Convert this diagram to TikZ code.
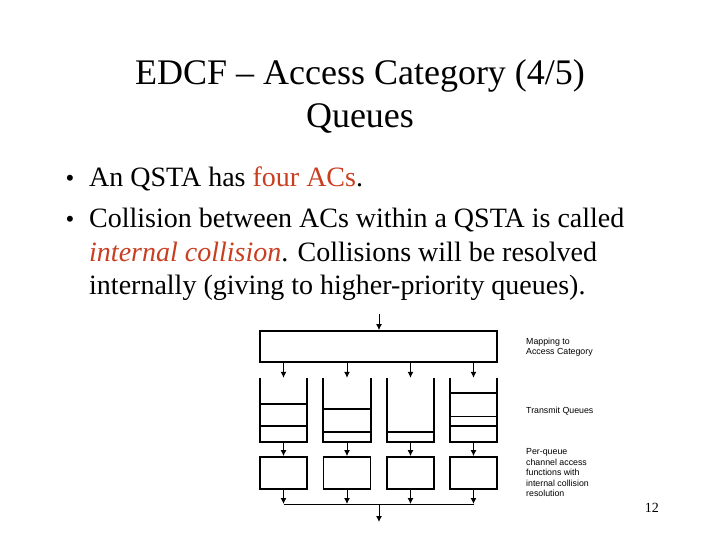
\documentclass[tikz,border=0pt]{standalone}
\usepackage{fontspec}
\setmainfont{Liberation Serif}
\newfontfamily\labelfont{Liberation Sans}
\usetikzlibrary{arrows.meta}
\definecolor{hilite}{RGB}{200,62,32}
\begin{document}
\begin{tikzpicture}[x=1pt,y=-1pt,
  titletext/.style={anchor=base,inner sep=0pt,font=\fontsize{36}{43}\selectfont},
  bodytext/.style={anchor=base west,inner sep=0pt,font=\fontsize{28}{34}\selectfont},
  bulletmark/.style={anchor=base,inner sep=0pt,font=\fontsize{25}{34}\selectfont},
  sidelabel/.style={anchor=base west,inner sep=0pt,font=\labelfont\fontsize{8.8}{10.5}\selectfont,align=left},
  heavybox/.style={draw,line width=1.8pt,inner sep=0pt},
  queuebox/.style={inner sep=0pt,minimum width=47pt,minimum height=64pt},
  qline/.style={line width=1.8pt},
  qthin/.style={line width=0.9pt},
  flow/.style={line width=1pt,-{Latex[length=6pt,width=6pt]}},
  busline/.style={line width=1pt}
]
\useasboundingbox (0,0) rectangle (720,540);

% title
\node[titletext] (t1) at (360,85) {EDCF – Access Category (4/5)};
\node[titletext] (t2) at (360,128) {Queues};

% bullets
\node[bulletmark] (b1) at (70,187) {•};
\node[bodytext] (l1) at (89,187) {An QSTA has \textcolor{hilite}{four ACs}.};
\node[bulletmark] (b2) at (70,227) {•};
\node[bodytext] (l2) at (89,227) {Collision between ACs within a QSTA is called};
\node[bodytext] (l3) at (89,261) {\textcolor{hilite}{\textit{internal collision}}. Collisions will be resolved};
\node[bodytext] (l4) at (89,294) {internally (giving to higher-priority queues).};

% mapping box
\node[heavybox,minimum width=237pt,minimum height=31pt] (map) at (378.5,346.5) {};
\coordinate (in) at (379,314);
\draw[flow] (in) -- (map.north -| in);

% queues
\foreach \i/\x in {1/283.5,2/347,3/410.5,4/473.5}{
  \node[queuebox] (q\i) at (\x,410) {};
  \draw[qline] (q\i.north west) -- (q\i.south west) -- (q\i.south east) -- (q\i.north east);
  \draw[flow] (map.south -| q\i) -- (q\i.north);
  \node[heavybox,minimum width=47pt,minimum height=32pt] (f\i) at (\x,473) {};
  \draw[flow] (q\i.south) -- (f\i.north);
  \coordinate (bus\i) at (\x,504);
  \draw[flow] (f\i.south) -- (bus\i);
}
% queue contents
\draw[qline] ([yshift=38pt]q1.south west) -- ([yshift=38pt]q1.south east);
\draw[qline] ([yshift=16pt]q1.south west) -- ([yshift=16pt]q1.south east);
\draw[qline] ([yshift=33pt]q2.south west) -- ([yshift=33pt]q2.south east);
\draw[qline] ([yshift=10pt]q2.south west) -- ([yshift=10pt]q2.south east);
\draw[qline] ([yshift=10pt]q3.south west) -- ([yshift=10pt]q3.south east);
\draw[qline] ([yshift=49pt]q4.south west) -- ([yshift=49pt]q4.south east);
\draw[qthin] ([yshift=26pt]q4.south west) -- ([yshift=26pt]q4.south east);
\draw[qline] ([yshift=16pt]q4.south west) -- ([yshift=16pt]q4.south east);

% bus and output
\draw[busline] (bus1) -- (bus4);
\coordinate (busc) at (379,504);
\coordinate (out) at (379,522);
\draw[flow] (busc) -- (out);

% side labels
\node[sidelabel] (m1) at (526,344) {Mapping to};
\node[sidelabel] (m2) at (526,354) {Access Category};
\node[sidelabel] (tq) at (526,413) {Transmit Queues};
\node[sidelabel] (p1) at (526,454) {Per-queue};
\node[sidelabel] (p2) at (526,465) {channel access};
\node[sidelabel] (p3) at (526,475.5) {functions with};
\node[sidelabel] (p4) at (526,486) {internal collision};
\node[sidelabel] (p5) at (526,496.5) {resolution};

% page number
\node[anchor=base east,inner sep=0pt,font=\fontsize{14}{16}\selectfont] (pn) at (659,512) {12};
\end{tikzpicture}
\end{document}
